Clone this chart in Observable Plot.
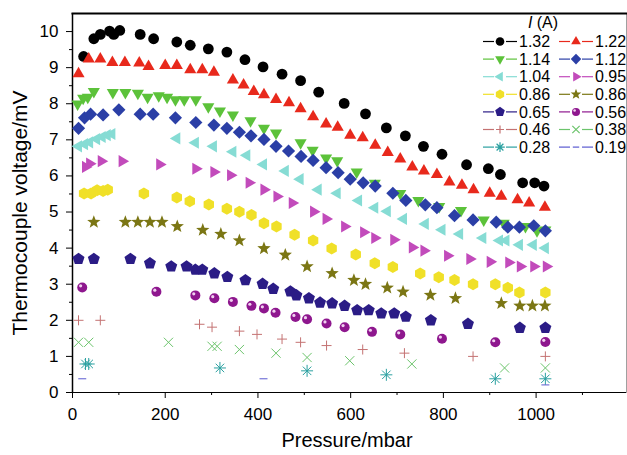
<!DOCTYPE html>
<html><head><meta charset="utf-8">
<script src="https://cdn.jsdelivr.net/npm/d3@7"></script>
<script src="https://cdn.jsdelivr.net/npm/@observablehq/plot@0.6"></script>
<style>
body{margin:0;background:#fff;}
#wrap{position:relative;width:627px;height:455px;font-family:"Liberation Sans",Arial,Helvetica,sans-serif;}
#wrap svg{overflow:visible;}
#legend{position:absolute;left:0;top:0;}
</style></head><body><div id="wrap"></div>
<script>
// ---- data (pressure in mbar, thermocouple voltage in mV), one pair per current I (A)
const p132 = [24,46,60,80,89,102,146,175,225,254,293,333,372,411,452,492,531,586,632,677,718,757,797,850,897,923,971,997,1017];
const v132 = [9.31,9.80,9.92,10.01,9.92,10.03,9.92,9.80,9.71,9.62,9.52,9.43,9.22,9.02,8.82,8.64,8.32,8.01,7.72,7.33,7.11,6.82,6.60,6.31,6.20,6.04,5.81,5.81,5.72];
const p122 = [13,35,60,86,113,144,164,200,225,254,280,305,346,369,391,413,439,467,492,519,547,572,599,626,653,680,707,733,758,786,813,840,865,900,925,960,985,1019];
const v122 = [8.83,9.24,9.24,9.14,9.14,9.13,9.03,9.06,9.06,8.94,8.94,8.87,8.66,8.52,8.34,8.25,8.12,8.03,7.86,7.64,7.44,7.35,7.13,7.06,6.85,6.65,6.47,6.25,6.14,6.04,5.83,5.74,5.62,5.52,5.44,5.34,5.25,5.13];
const p114 = [11,23,33,46,87,114,141,162,186,204,222,241,266,293,318,346,384,413,439,492,518,547,571,613,652,707,746,791,838,887,930,977,1002,1020];
const v114 = [7.99,8.15,8.18,8.34,8.31,8.31,8.29,8.18,8.22,8.18,8.11,8.11,8.11,7.92,7.80,7.69,7.53,7.32,7.19,6.92,6.71,6.50,6.42,6.11,5.80,5.51,5.32,5.15,5.04,4.78,4.69,4.60,4.48,4.50];
const p112 = [13,26,39,66,100,146,174,222,266,305,333,360,385,413,439,466,493,519,547,573,599,627,653,691,719,761,786,824,864,914,939,964,995,1020];
const v112 = [7.32,7.61,7.71,7.69,7.83,7.71,7.71,7.61,7.48,7.41,7.32,7.21,7.11,7.01,6.82,6.69,6.54,6.43,6.23,6.09,5.91,5.81,5.72,5.52,5.32,5.20,5.12,4.90,4.78,4.72,4.58,4.58,4.62,4.48];
const p104 = [13,26,37,52,64,75,85,225,265,304,346,376,412,459,491,530,571,617,652,679,714,761,797,835,885,921,935,964,994,1020];
const v104 = [6.82,6.88,6.93,7.02,7.08,7.13,7.16,7.04,6.92,6.82,6.67,6.57,6.32,6.14,5.91,5.62,5.52,5.32,5.12,5.02,4.81,4.67,4.51,4.39,4.28,4.21,4.21,4.09,4.09,4.00];
const p095 = [28,37,62,107,188,266,305,341,381,413,441,474,520,547,587,628,652,693,733,758,809,857,901,941,966,995,1022];
const v095 = [6.25,6.34,6.41,6.41,6.32,6.20,6.11,6.02,5.81,5.62,5.43,5.25,5.01,4.81,4.60,4.44,4.28,4.23,4.02,3.93,3.79,3.70,3.62,3.60,3.49,3.49,3.49];
const p086a = [25,40,53,66,76,154,225,253,294,333,360,386,413,440,479,519,559,611,652,691,750,790,824,864,912,939,964,1020];
const v086a = [5.51,5.51,5.60,5.58,5.62,5.51,5.40,5.30,5.21,5.09,5.01,4.92,4.69,4.60,4.37,4.21,3.99,3.82,3.58,3.48,3.30,3.19,3.12,3.00,3.00,2.90,2.77,2.77];
const p086b = [46,114,141,167,193,226,281,320,360,413,459,506,560,607,632,679,713,772,826,925,965,992,1019];
const v086b = [4.72,4.72,4.72,4.72,4.72,4.60,4.50,4.39,4.21,3.99,3.81,3.49,3.30,3.11,3.00,2.90,2.79,2.70,2.61,2.47,2.40,2.40,2.40];
const p065 = [13,46,125,167,213,246,265,280,306,334,373,410,433,470,483,510,534,560,587,614,639,666,694,719,773,853,965,1020];
const v065 = [3.70,3.70,3.70,3.58,3.49,3.49,3.40,3.40,3.30,3.20,3.11,3.01,2.87,2.80,2.69,2.61,2.49,2.47,2.40,2.28,2.28,2.19,2.19,2.10,2.00,1.90,1.79,1.79];
const p056 = [21,181,265,306,346,386,413,438,481,506,548,587,646,707,797,912,1020];
const v056 = [2.91,2.79,2.69,2.61,2.51,2.40,2.33,2.21,2.09,2.03,1.91,1.81,1.68,1.61,1.49,1.39,1.40];
const p046 = [13,60,274,301,360,398,452,492,548,626,716,864,1020];
const v046 = [2.00,2.00,1.89,1.81,1.70,1.61,1.48,1.39,1.30,1.19,1.09,1.00,1.00];
const p038 = [13,35,207,301,312,360,439,506,598,732,932,1020];
const v038 = [1.39,1.39,1.39,1.28,1.28,1.19,1.09,0.97,0.88,0.79,0.68,0.68];
const p028 = [28,35,318,506,677,912,1020];
const v028 = [0.79,0.79,0.68,0.60,0.49,0.38,0.38];
const p019 = [21,412,1020];
const v019 = [0.38,0.38,0.21];

const currentLabels = ["1.32","1.22","1.14","1.12","1.04","0.95","0.86","0.86","0.65","0.56","0.46","0.38","0.28","0.19"];
const xTicks = [0,200,400,600,800,1000];
const xMinor = [100,300,500,700,900,1100];
const yTicks = [0,1,2,3,4,5,6,7,8,9,10];
const yMinor = [0.5,1.5,2.5,3.5,4.5,5.5,6.5,7.5,8.5,9.5];
const xTitle = "Pressure/mbar";
const yTitle = "Thermocouple voltage/mV";

// ---- symbols
const polySym = (n, a0) => ({draw(ctx, size){const R=Math.sqrt(size/Math.PI);
  for(let i=0;i<n;i++){const a=a0+2*Math.PI*i/n, px=R*Math.cos(a), py=R*Math.sin(a); i?ctx.lineTo(px,py):ctx.moveTo(px,py);} ctx.closePath();}});
const starSym = {draw(ctx, size){const R=Math.sqrt(size/Math.PI), r=R*0.42;
  for(let i=0;i<10;i++){const a=-Math.PI/2+Math.PI*i/5, rr=i%2?r:R, px=rr*Math.cos(a), py=rr*Math.sin(a); i?ctx.lineTo(px,py):ctx.moveTo(px,py);} ctx.closePath();}};
const spokeSym = (n, a0) => ({draw(ctx, size){const R=Math.sqrt(size/Math.PI);
  for(let i=0;i<n;i++){const a=a0+Math.PI*i/n; ctx.moveTo(R*Math.cos(a),R*Math.sin(a)); ctx.lineTo(-R*Math.cos(a),-R*Math.sin(a));}}});
const circleSym = {draw(ctx,size){const R=Math.sqrt(size/Math.PI); ctx.moveTo(R,0); ctx.arc(0,0,R,0,2*Math.PI);}};

const S = {
  circle: circleSym, triUp: polySym(3,-Math.PI/2), triDown: polySym(3,Math.PI/2),
  triLeft: polySym(3,Math.PI), triRight: polySym(3,0), diamond: polySym(4,0),
  hexagon: polySym(6,-Math.PI/2), pentagon: polySym(5,-Math.PI/2), star: starSym,
  plus: spokeSym(2,0), times: spokeSym(2,Math.PI/4), asterisk: spokeSym(4,0), dash: spokeSym(1,0)
};

const seriesP = [p132,p122,p114,p112,p104,p095,p086a,p086b,p065,p056,p046,p038,p028,p019];
const seriesV = [v132,v122,v114,v112,v104,v095,v086a,v086b,v065,v056,v046,v038,v028,v019];
const styles = [
  {sym:"circle", color:"#000000", r:5.4, filled:true},
  {sym:"triUp", color:"#e8291c", r:7, filled:true},
  {sym:"triDown", color:"#5cc23a", r:7, filled:true},
  {sym:"diamond", color:"#2b3fa6", r:6.6, filled:true},
  {sym:"triLeft", color:"#86dcd4", r:7, filled:true},
  {sym:"triRight", color:"#c24bbb", r:7, filled:true},
  {sym:"hexagon", color:"#f0e028", r:6, filled:true},
  {sym:"star", color:"#7b7614", r:7, filled:true},
  {sym:"pentagon", color:"#2b1c86", r:6.3, filled:true},
  {sym:"circle", color:"#8e178e", r:5, filled:true, sphere:true},
  {sym:"plus", color:"#c47272", r:5, filled:false},
  {sym:"times", color:"#6cc46c", r:6.5, filled:false},
  {sym:"asterisk", color:"#2aa0a0", r:6, filled:false},
  {sym:"dash", color:"#5a5ad0", r:4, filled:false}
];

const FONT = '"Liberation Sans", Arial, Helvetica, sans-serif';
const marks = [
  Plot.frame({stroke:"#a0a0a0", strokeWidth:1}),
  Plot.frame({anchor:"top", stroke:"#000", strokeWidth:2}),
  Plot.ruleX([0], {stroke:"#000", strokeWidth:1.5}),
  Plot.ruleY([0], {stroke:"#000", strokeWidth:1.2}),
  Plot.axisY({ticks:yTicks, tickSize:6, tickPadding:8, fontSize:17, label:null, stroke:"#000", tickFormat:d=>String(d)}),
  Plot.axisY({ticks:yMinor, tickSize:3, tickFormat:()=>"", label:null, stroke:"#000"}),
  Plot.axisX({ticks:xTicks, tickSize:6, tickPadding:9, fontSize:17, label:null, stroke:"#000", tickFormat:d=>String(d)}),
  Plot.axisX({ticks:xMinor, tickSize:3, tickFormat:()=>"", label:null, stroke:"#000"})
];
seriesP.forEach((P, k) => {
  const V = seriesV[k], st = styles[k];
  const opts = {x:(d,i)=>P[i], y:d=>d, symbol:S[st.sym], r:st.r};
  if (st.filled) { opts.fill = st.color; opts.stroke = "none"; }
  else { opts.fill = "none"; opts.stroke = st.color; opts.strokeWidth = 1; }
  marks.push(Plot.dot(V, opts));
  if (st.sphere) marks.push(Plot.dot(V, {x:(d,i)=>P[i], y:d=>d, r:1.6, fill:"#f0d0f0", dx:-1.6, dy:-1.6}));
});

const chart = Plot.plot({
  width:627, height:455, marginLeft:72, marginRight:1, marginTop:13, marginBottom:63,
  style:{fontFamily:FONT, fontSize:"17px", color:"#000", background:"white"},
  x:{domain:[0,1195]}, y:{domain:[0,10.5]},
  marks
});
const wrap = document.getElementById("wrap");
wrap.appendChild(chart);

// ---- axis titles and legend overlay
const leg = d3.select(wrap).append("svg").attr("id","legend").attr("width",627).attr("height",455)
  .style("font-family", FONT);
leg.append("text").attr("x",347).attr("y",447).attr("text-anchor","middle").attr("font-size",20).text(xTitle);
leg.append("text").attr("transform","translate(27,213) rotate(-90)").attr("text-anchor","middle")
  .attr("font-size",21).text(yTitle);

const hdr = leg.append("text").attr("x",543).attr("y",28).attr("text-anchor","middle").attr("font-size",16);
hdr.append("tspan").attr("font-style","italic").text("I");
hdr.append("tspan").text(" (A)");
currentLabels.forEach((lab, k) => {
  const st = styles[k], col = k % 2, row = Math.floor(k/2);
  const x0 = col ? 559 : 483, cy = 41.5 + row*17.6;
  const g = leg.append("g").attr("transform", `translate(${x0},${cy})`);
  g.append("line").attr("x1",0).attr("x2",11).attr("stroke",st.color).attr("stroke-width",1.2);
  g.append("line").attr("x1",23).attr("x2",34).attr("stroke",st.color).attr("stroke-width",1.2);
  const rr = st.r*0.8;
  const path = d3.symbol().type(S[st.sym]).size(Math.PI*rr*rr)();
  const p = g.append("path").attr("d",path).attr("transform","translate(17,0)");
  if (st.filled) p.attr("fill",st.color); else p.attr("fill","none").attr("stroke",st.color).attr("stroke-width",1.2);
  if (st.sphere) g.append("circle").attr("cx",15.6).attr("cy",-1.4).attr("r",1.3).attr("fill","#f0d0f0");
  g.append("text").attr("x",36).attr("y",0).attr("dy","0.36em").attr("font-size",16).text(lab);
});
</script></body></html>
